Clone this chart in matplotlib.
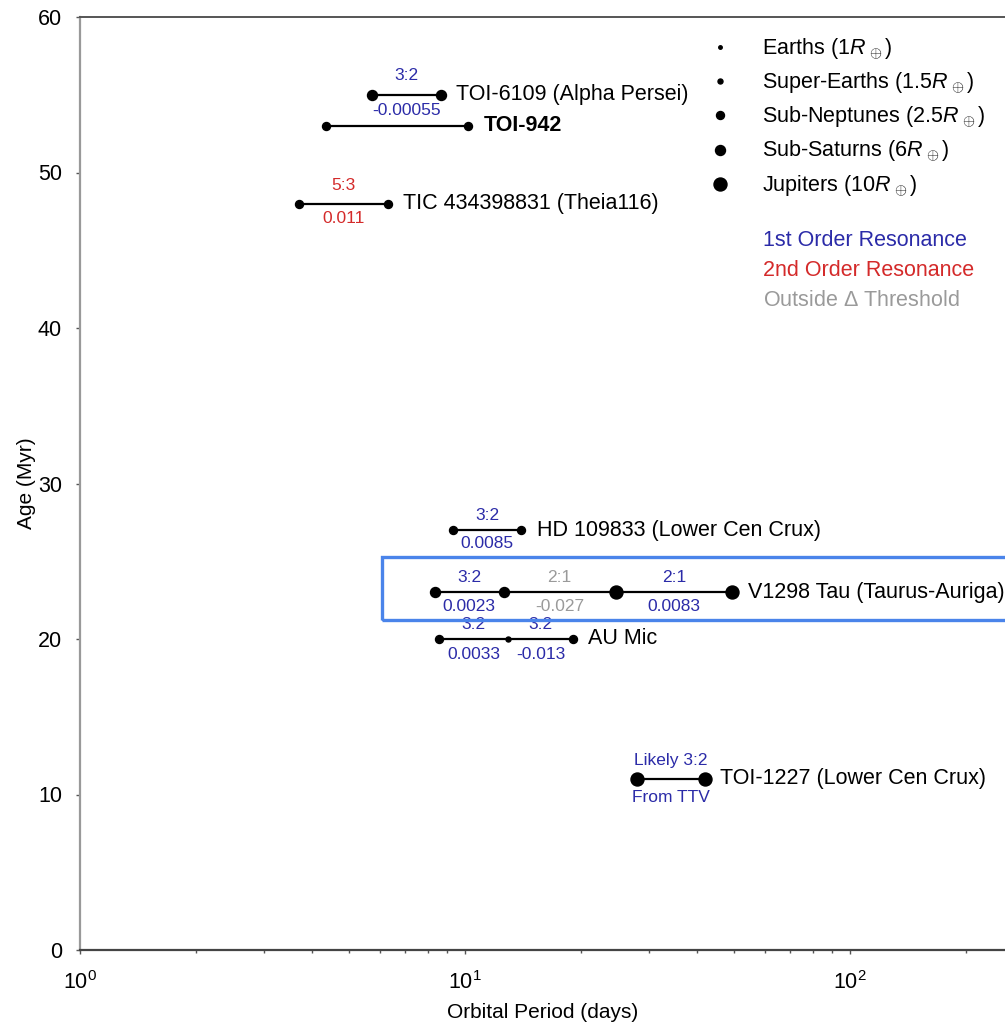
import matplotlib
matplotlib.use("Agg")
import matplotlib.pyplot as plt
from matplotlib.lines import Line2D
from matplotlib.patches import Rectangle

plt.rcParams['font.family'] = ['Liberation Sans', 'DejaVu Sans']
plt.rcParams['mathtext.fontset'] = 'custom'
plt.rcParams['mathtext.rm'] = 'Liberation Sans'
plt.rcParams['mathtext.it'] = 'Liberation Sans:italic'

# systems (young multi-planet systems)
names = ["TOI-6109 (Alpha Persei)", "TOI-942", "TIC 434398831 (Theia116)",
         "HD 109833 (Lower Cen Crux)", "V1298 Tau (Taurus-Auriga)", "AU Mic",
         "TOI-1227 (Lower Cen Crux)"]
ages = [55, 53, 48, 27, 23, 20, 11]
periods = [[5.75, 8.65], [4.35, 10.2], [3.7, 6.3], [9.3, 14.0],
           [8.35, 12.6, 24.6, 49.5], [8.55, 12.95, 19.1], [28.0, 42.0]]
# size class of each planet: 0 Earth, 1 Super-Earth, 2 Sub-Neptune, 3 Sub-Saturn, 4 Jupiter
sizes = [[3, 3], [2, 2], [2, 2], [2, 2], [3, 3, 4, 4], [2, 1, 2], [4, 4]]
# labels for each adjacent pair: ratio (above), delta (below), colour key
ratios = [["3:2"], [None], ["5:3"], ["3:2"], ["3:2", "2:1", "2:1"], ["3:2", "3:2"], ["Likely 3:2"]]
deltas = [["-0.00055"], [None], ["0.011"], ["0.0085"], ["0.0023", "-0.027", "0.0083"],
          ["0.0033", "-0.013"], ["From TTV"]]
kinds = [["1st"], [None], ["2nd"], ["1st"], ["1st", "out", "1st"], ["1st", "1st"], ["1st"]]
bold = [False, True, False, False, False, False, False]
# distance (points) of the pair labels above / below the line
gap_up = [14, 0, 13, 10.5, 10.5, 10.5, 13.5]
gap_dn = [11, 0, 11, 9.5, 10, 11, 13]

size_labels = [r"Earths (1$R_{\,\oplus}$)", r"Super-Earths (1.5$R_{\,\oplus}$)",
               r"Sub-Neptunes (2.5$R_{\,\oplus}$)", r"Sub-Saturns (6$R_{\,\oplus}$)",
               r"Jupiters (10$R_{\,\oplus}$)"]
marker_px = [3.5, 5, 8, 10, 13]
kind_colors = {"1st": "#2b2ba8", "2nd": "#d42a2a", "out": "#9a9a9a"}
key_labels = ["1st Order Resonance", "2nd Order Resonance", "Outside $\\Delta$ Threshold"]
key_kinds = ["1st", "2nd", "out"]

fig = plt.figure(figsize=(10.05, 10.24), dpi=100)
ax = fig.add_axes([80/1005, 74/1024, 925/1005, 933/1024])
ms = [p*72/100 for p in marker_px]

for i, name in enumerate(names):
    P = periods[i]
    ax.plot(P, [ages[i]]*len(P), '-', color='black', lw=1.6, zorder=2)
    for p, s in zip(P, sizes[i]):
        ax.plot(p, ages[i], 'o', color='black', ms=ms[s], zorder=3)
    for j in range(len(P) - 1):
        mid = (P[j]*P[j+1])**0.5
        if ratios[i][j] is None:
            continue
        c = kind_colors[kinds[i][j]]
        ax.annotate(ratios[i][j], (mid, ages[i]), xytext=(0, gap_up[i]), textcoords='offset points',
                    ha='center', va='center', fontsize=12.5, color=c)
        ax.annotate(deltas[i][j], (mid, ages[i]), xytext=(0, -gap_dn[i]), textcoords='offset points',
                    ha='center', va='center', fontsize=12.5, color=c)
    ax.annotate(name, (P[-1], ages[i]), xytext=(11, 0), textcoords='offset points',
                ha='left', va='center', fontsize=15.5,
                fontweight='bold' if bold[i] else 'normal')

# highlight box round V1298 Tau
ax.add_patch(Rectangle((6.1, 21.2), 1000, 4.1, fill=False, ec='#4a84ea', lw=2.4,
                       clip_on=False, zorder=4))

ax.set_xscale('log')
ax.set_xlim(1, 10**(925/385))
ax.set_ylim(0, 60)
ax.set_yticks(range(0, 61, 10))
ax.set_xlabel("Orbital Period (days)", fontsize=15, labelpad=7)
ax.set_ylabel("Age (Myr)", fontsize=15, labelpad=1)
ax.tick_params(axis='both', which='major', labelsize=15.5, length=3, width=1, color='#555555')
ax.tick_params(axis='x', which='minor', length=2.5, width=1, color='#555555')
ax.tick_params(axis='x', pad=12)
ax.tick_params(axis='y', pad=10)
ax.spines['right'].set_visible(False)
ax.spines['left'].set_color('#999999')
ax.spines['left'].set_linewidth(1.6)
ax.spines['top'].set_color('#555555')
ax.spines['top'].set_linewidth(1.4)
ax.spines['bottom'].set_color('#444444')
ax.spines['bottom'].set_linewidth(1.6)

handles = [Line2D([], [], marker='o', ls='none', color='black', markersize=m) for m in ms]
ax.legend(handles, size_labels, loc='upper left', bbox_to_anchor=(710/1005, 1-36/1024),
          bbox_transform=fig.transFigure, frameon=False, fontsize=15.5, handlelength=0.9,
          handletextpad=1.5, labelspacing=0.4, borderpad=0, borderaxespad=0)

for k, (lab, kd) in enumerate(zip(key_labels, key_kinds)):
    fig.text(763/1005, 1-(240 + 30*k)/1024, lab, color=kind_colors[kd], fontsize=15.5,
             ha='left', va='center')

fig.savefig("out.png", dpi=100)
